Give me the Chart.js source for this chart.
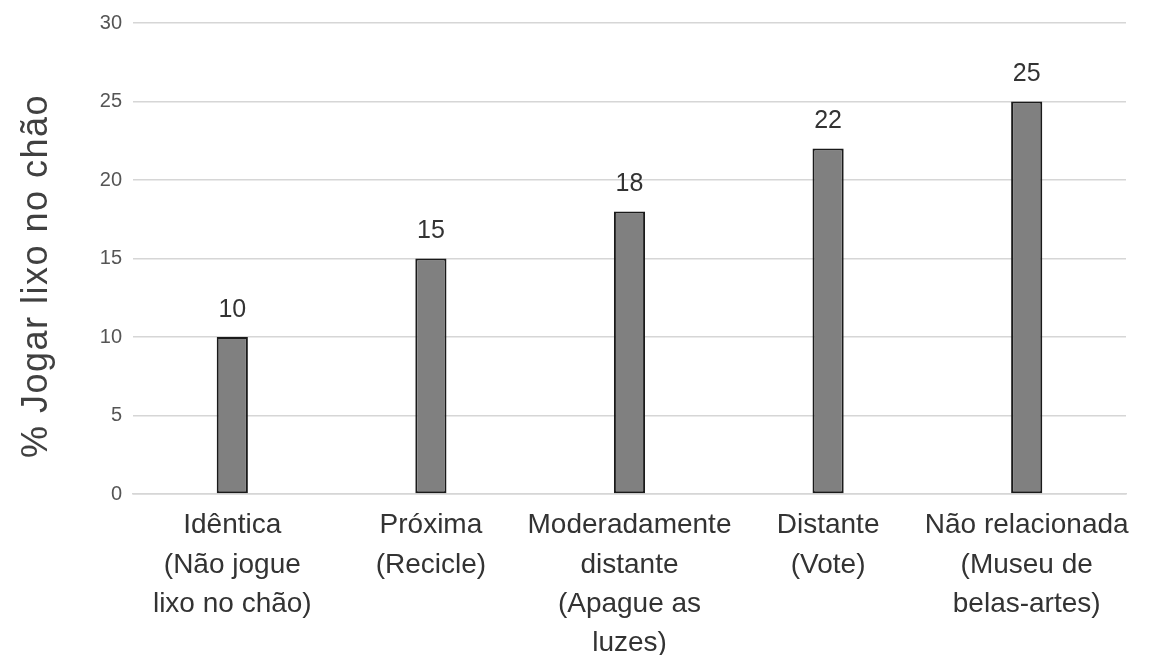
<!DOCTYPE html>
<html>
<head>
<meta charset="utf-8">
<script src="https://cdn.jsdelivr.net/npm/chart.js@4"></script>
<style>
  html, body { margin: 0; padding: 0; background: #ffffff; }
  #wrap { width: 1151px; height: 655px; }
</style>
</head>
<body>
<div id="wrap"><canvas id="c" width="1151" height="655"></canvas></div>
<script>
// Categories (multi-line labels), values and axis settings
const categories = [
  ["Idêntica", "(Não jogue", "lixo no chão)"],
  ["Próxima", "(Recicle)"],
  ["Moderadamente", "distante", "(Apague as", "luzes)"],
  ["Distante", "(Vote)"],
  ["Não relacionada", "(Museu de", "belas-artes)"]
];
const values = [10, 15, 18, 22, 25];
const yTicks = [0, 5, 10, 15, 20, 25, 30];
const yTitle = "% Jogar lixo no chão";

const FONT = "'Liberation Sans', Arial, sans-serif";

// Writes each bar's value above it
const valueLabels = {
  id: 'valueLabels',
  afterDatasetsDraw(chart) {
    const ctx = chart.ctx;
    const meta = chart.getDatasetMeta(0);
    ctx.save();
    ctx.font = "25px " + FONT;
    ctx.fillStyle = "#333333";
    ctx.textAlign = "center";
    ctx.textBaseline = "middle";
    meta.data.forEach((bar, i) => {
      ctx.fillText(String(chart.data.datasets[0].data[i]), bar.x, bar.y - 27);
    });
    ctx.restore();
  }
};

// Rotated y-axis title, drawn in the left margin
const yAxisTitle = {
  id: 'yAxisTitle',
  afterDraw(chart) {
    const ctx = chart.ctx;
    ctx.save();
    ctx.translate(37, 276);
    ctx.rotate(-Math.PI / 2);
    ctx.font = "36px " + FONT;
    if ('letterSpacing' in ctx) ctx.letterSpacing = "1.5px";
    ctx.fillStyle = "#404040";
    ctx.textAlign = "center";
    ctx.textBaseline = "middle";
    ctx.fillText(yTitle, 0, 0);
    ctx.restore();
  }
};

new Chart(document.getElementById('c'), {
  type: 'bar',
  data: {
    labels: categories,
    datasets: [{
      data: values,
      backgroundColor: '#808080',
      borderColor: '#1a1a1a',
      borderWidth: 2,
      borderSkipped: false,
      barPercentage: 0.157,
      categoryPercentage: 1
    }]
  },
  options: {
    responsive: false,
    animation: false,
    devicePixelRatio: 1,
    layout: { padding: { top: 21, right: 25, bottom: 0, left: 0 } },
    plugins: {
      legend: { display: false },
      tooltip: { enabled: false }
    },
    scales: {
      y: {
        min: yTicks[0],
        max: yTicks[yTicks.length - 1],
        afterBuildTicks(scale) {
          scale.ticks = yTicks.map(v => ({ value: v }));
        },
        afterFit(scale) { scale.width = 133; },
        border: { display: false },
        grid: { color: '#d6d6d6', lineWidth: 1.5, drawTicks: false },
        ticks: {
          padding: 11,
          color: '#555555',
          font: { family: FONT, size: 20 }
        }
      },
      x: {
        afterFit(scale) { scale.height = 161; },
        border: { display: true, color: '#d6d6d6', width: 1.5 },
        grid: { display: false },
        ticks: {
          padding: 4,
          autoSkip: false,
          maxRotation: 0,
          minRotation: 0,
          color: '#333333',
          font: { family: FONT, size: 28, lineHeight: 1.4 }
        }
      }
    }
  },
  plugins: [valueLabels, yAxisTitle]
});
</script>
</body>
</html>
